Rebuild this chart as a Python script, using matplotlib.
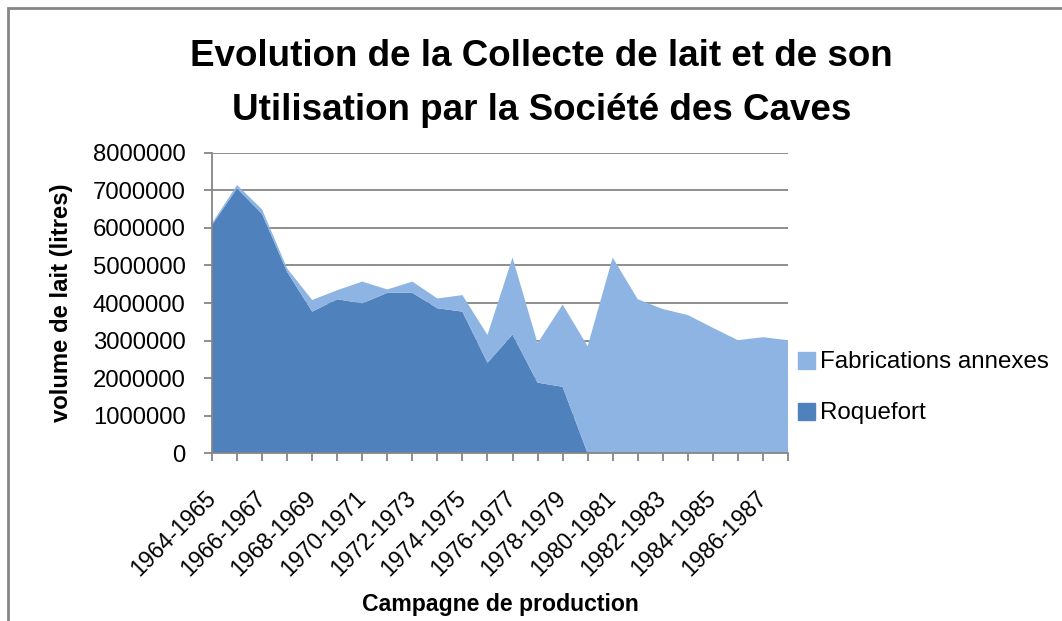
import matplotlib
matplotlib.use("Agg")
import matplotlib.pyplot as plt
from matplotlib.patches import Patch, Rectangle

# campagnes de production (une par an)
campagnes = ["%d-%d" % (y, y + 1) for y in range(1964, 1988)]

# litres de lait
roquefort = [6080000, 7050000, 6370000, 4830000, 3770000, 4100000, 3990000,
             4270000, 4270000, 3860000, 3770000, 2410000, 3160000, 1880000,
             1770000, 0, 0, 0, 0, 0, 0, 0, 0, 0]
annexes = [40000, 90000, 120000, 90000, 310000, 240000, 580000, 90000,
           300000, 260000, 440000, 740000, 2050000, 1050000, 2190000,
           2850000, 5210000, 4100000, 3840000, 3680000, 3340000, 3010000,
           3090000, 3010000]

y_ticks = [0, 1000000, 2000000, 3000000, 4000000, 5000000, 6000000,
           7000000, 8000000]

C_ROQ = "#4f81bd"
C_ANN = "#8eb4e3"
GREY = "#868686"
FONT = "Liberation Sans"

plt.rcParams["font.family"] = [FONT, "DejaVu Sans"]

fig = plt.figure(figsize=(10.62, 6.21), dpi=100)
ax = fig.add_axes([212 / 1062, 1 - 453.3 / 621, 576 / 1062, 300.6 / 621])

x = list(range(len(campagnes)))
ax.stackplot(x, roquefort, annexes, colors=[C_ROQ, C_ANN],
             linewidth=0, zorder=2)

ax.set_xlim(0, len(campagnes) - 1)
ax.set_ylim(0, 8000000)
ax.set_yticks(y_ticks)
ax.set_yticklabels([str(v) for v in y_ticks], fontsize=17.2)
ax.yaxis.grid(True, color=GREY, linewidth=1.3, zorder=0)
ax.set_axisbelow(True)

ax.set_xticks(x)
ax.set_xticklabels([c if i % 2 == 0 else "" for i, c in enumerate(campagnes)],
                   rotation=45, ha="right", va="center", rotation_mode="anchor",
                   fontsize=16.6)

for s in ["top", "right"]:
    ax.spines[s].set_visible(False)
for s in ["left", "bottom"]:
    ax.spines[s].set_color(GREY)
    ax.spines[s].set_linewidth(1.3)
ax.tick_params(axis="both", color=GREY, width=1.3, length=6)
ax.tick_params(axis="y", pad=13)
ax.tick_params(axis="x", pad=24)

ax.set_ylabel("volume de lait (litres)", fontsize=17.2, fontweight="bold",
              labelpad=14)
ax.set_xlabel("Campagne de production", fontsize=16.6, fontweight="bold")
ax.xaxis.set_label_coords(0.5, (453.3 - 605) / 300.6)
ax.xaxis.label.set_va("center")

fig.text(0.51, 1 - 57 / 621, "Evolution de la Collecte de lait et de son",
         ha="center", va="center", fontsize=26.5, fontweight="bold")
fig.text(0.51, 1 - 110 / 621, "Utilisation par la Société des Caves",
         ha="center", va="center", fontsize=26.5, fontweight="bold")

handles = [Patch(color=C_ANN), Patch(color=C_ROQ)]
fig.legend(handles, ["Fabrications annexes", "Roquefort"],
           loc="center left", bbox_to_anchor=(776 / 1062, 1 - 388 / 621),
           frameon=False, fontsize=17.4, handlelength=0.7, handleheight=0.7,
           handletextpad=0.2, labelspacing=1.2)

# cadre du graphique (haut et gauche visibles)
fig.add_artist(Rectangle((8 / 1062, -0.1), 1.2, 1 - 7.5 / 621 + 0.1,
                         transform=fig.transFigure, fill=False,
                         edgecolor=GREY, linewidth=2))

fig.savefig("out.png", dpi=100)
